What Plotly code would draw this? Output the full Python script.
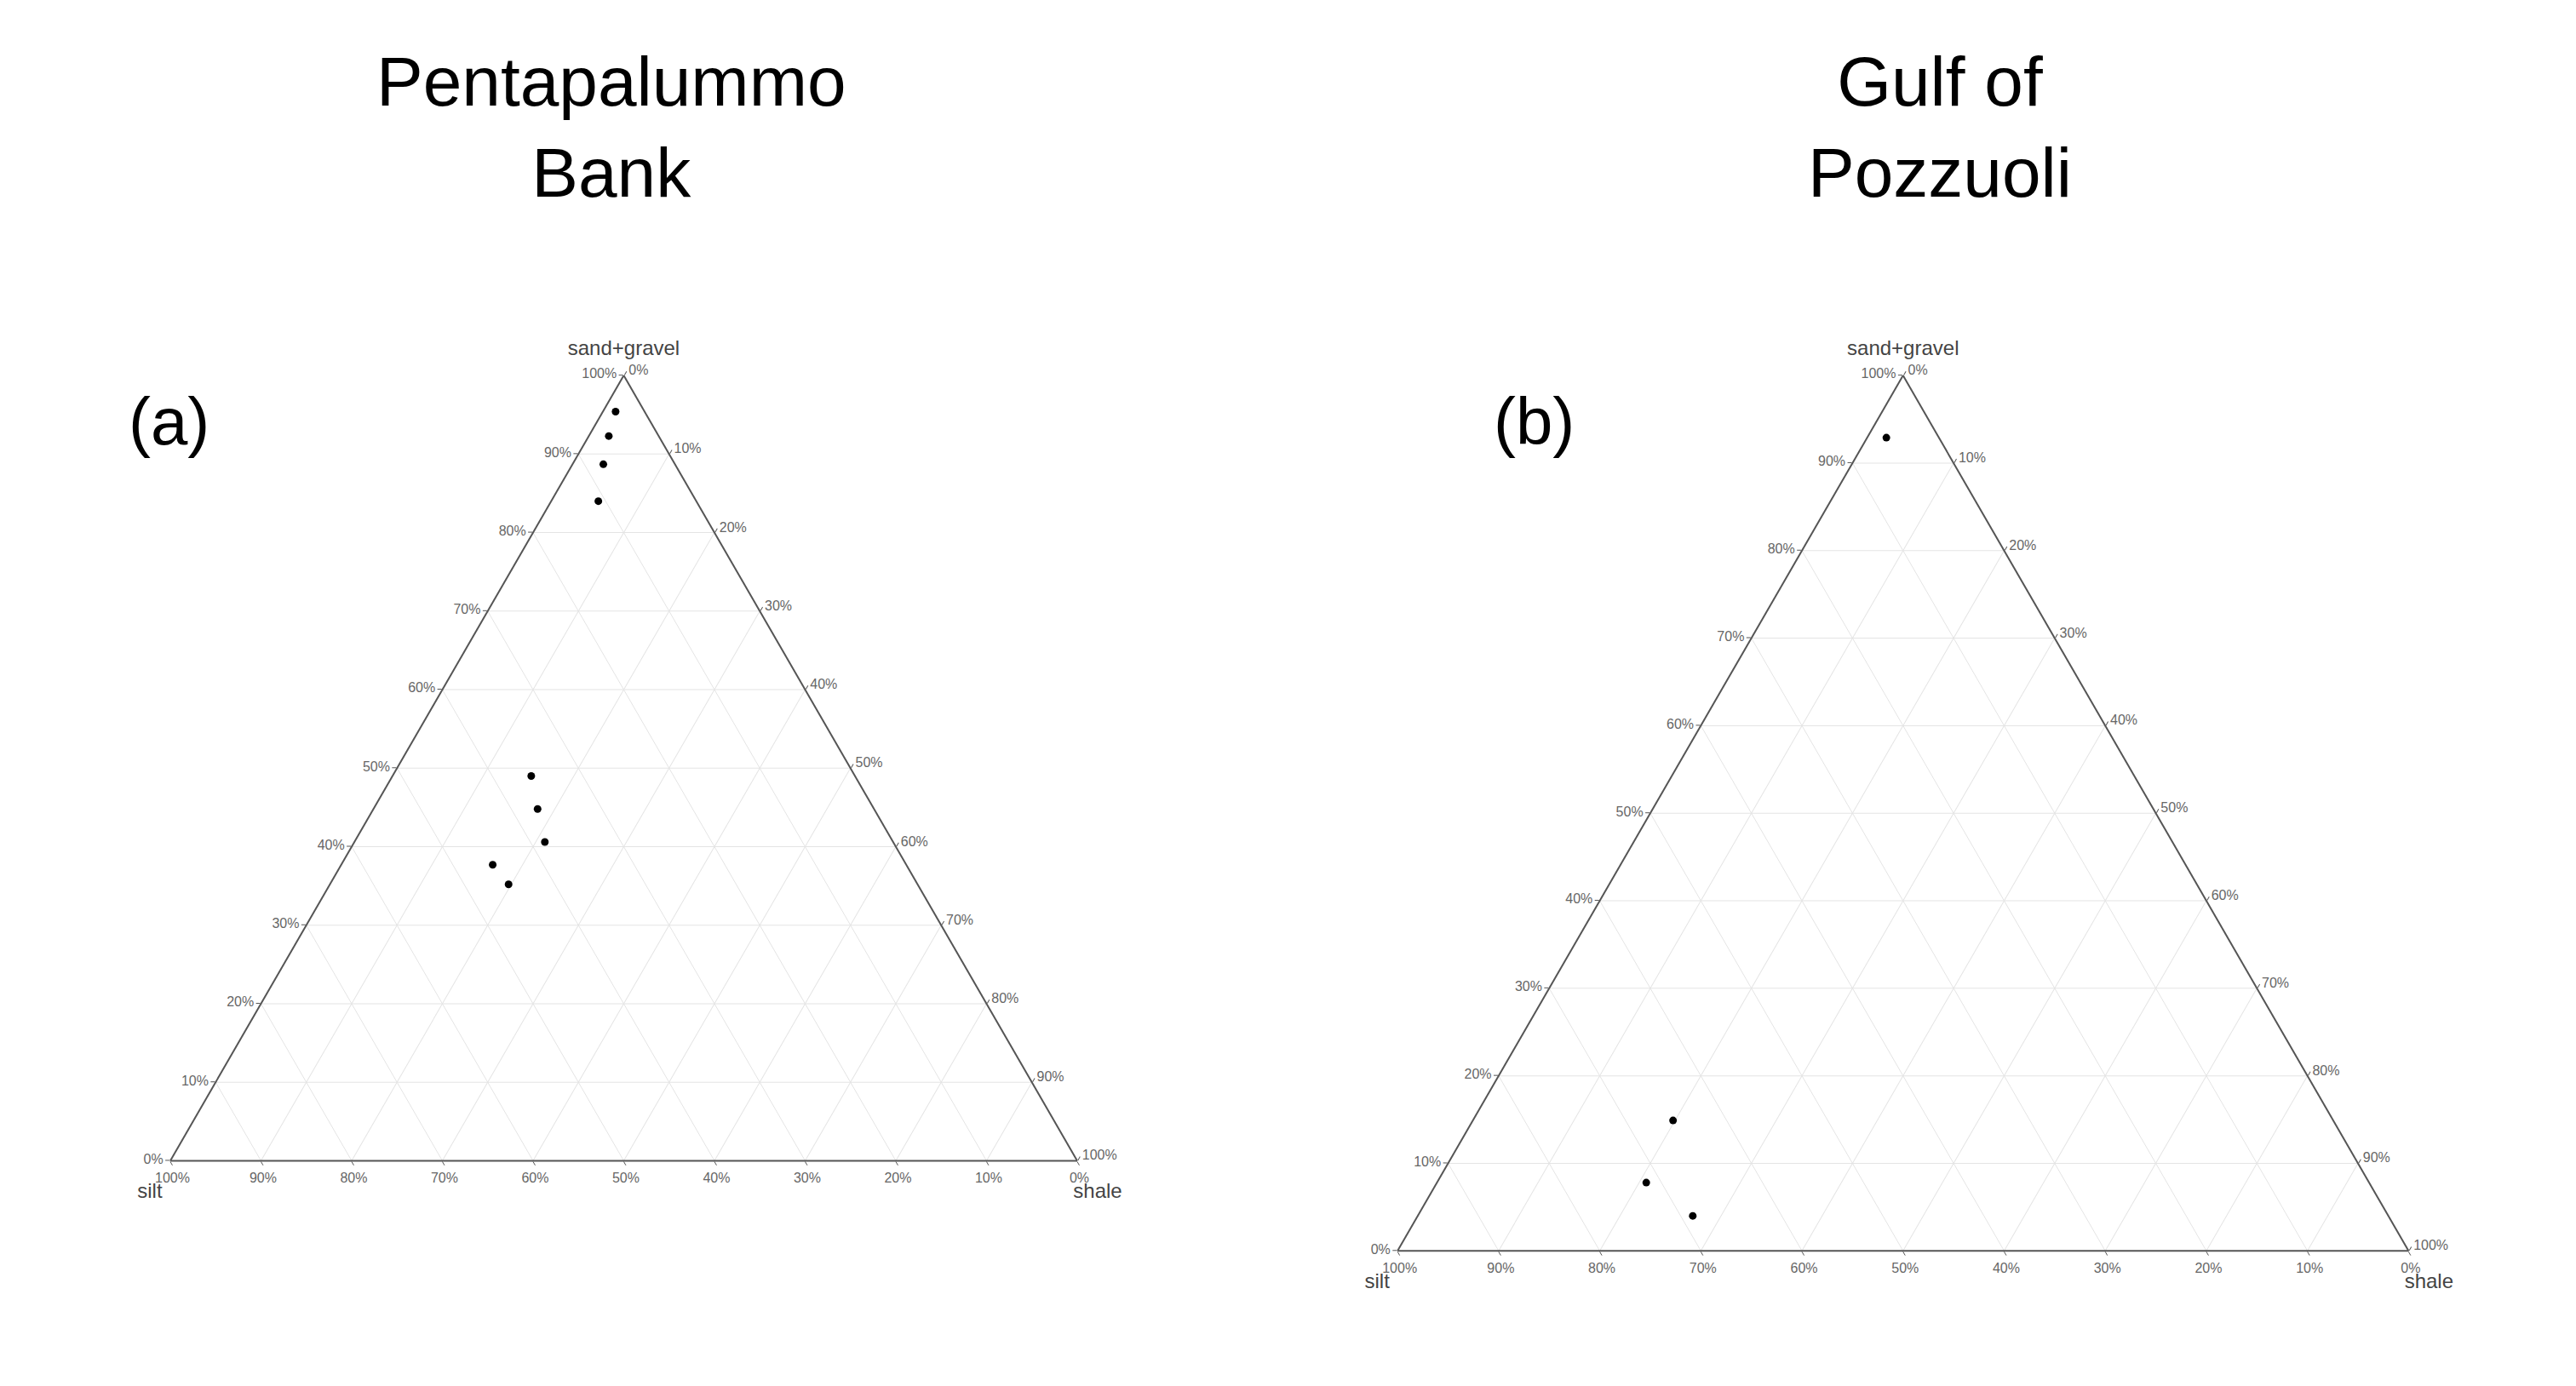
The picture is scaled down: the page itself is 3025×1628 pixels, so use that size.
import plotly.graph_objects as go

# sediment fractions (%)
penta_sand = [95.4, 92.3, 88.7, 84.0, 49.0, 44.8, 40.6, 37.7, 35.2]
penta_silt = [3.2, 5.5, 7.9, 10.8, 35.7, 37.1, 38.4, 45.6, 45.1]
penta_shale = [1.4, 2.2, 3.4, 5.2, 15.3, 18.1, 21.0, 16.7, 19.7]

pozz_sand = [92.9, 14.9, 7.8, 4.0]
pozz_silt = [5.2, 65.3, 71.5, 68.8]
pozz_shale = [1.9, 19.8, 20.7, 27.2]

fig = go.Figure()
fig.add_trace(go.Scatterternary(a=penta_sand, b=penta_silt, c=penta_shale, mode='markers',
                                marker=dict(color='black', size=9), subplot='ternary', showlegend=False))
fig.add_trace(go.Scatterternary(a=pozz_sand, b=pozz_silt, c=pozz_shale, mode='markers',
                                marker=dict(color='black', size=9), subplot='ternary2', showlegend=False))


def axis(title):
    return dict(title=dict(text=title, font=dict(size=24, color='#444')), ticksuffix='%',
                tickfont=dict(size=16, color='#666'), gridcolor='#e4e4e4', linecolor='#555',
                linewidth=2, dtick=10, ticks='outside', ticklen=5, tickcolor='#555', min=0)


for name, xd, yd in [('ternary', [0.0, 0.46], [0.13, 0.74]), ('ternary2', [0.52, 0.98], [0.06, 0.74])]:
    fig.update_layout(**{name: dict(sum=100, domain=dict(x=xd, y=yd), bgcolor='white',
                                    aaxis=axis('sand+gravel'), baxis=axis('silt'), caxis=axis('shale'))})

fig.update_layout(
    paper_bgcolor='white', plot_bgcolor='white',
    font=dict(family='Liberation Sans, Arial', color='black'),
    margin=dict(l=60, r=60, t=40, b=60),
    annotations=[
        dict(text='Pentapalummo<br>Bank', x=0.225, y=1.0, xref='paper', yref='paper', showarrow=False,
             font=dict(size=82), xanchor='center', yanchor='top'),
        dict(text='Gulf of<br>Pozzuoli', x=0.765, y=1.0, xref='paper', yref='paper', showarrow=False,
             font=dict(size=82), xanchor='center', yanchor='top'),
        dict(text='(a)', x=0.045, y=0.735, xref='paper', yref='paper', showarrow=False,
             font=dict(size=78), xanchor='center'),
        dict(text='(b)', x=0.6, y=0.735, xref='paper', yref='paper', showarrow=False,
             font=dict(size=78), xanchor='center'),
    ],
)

fig.write_html("out.html")
